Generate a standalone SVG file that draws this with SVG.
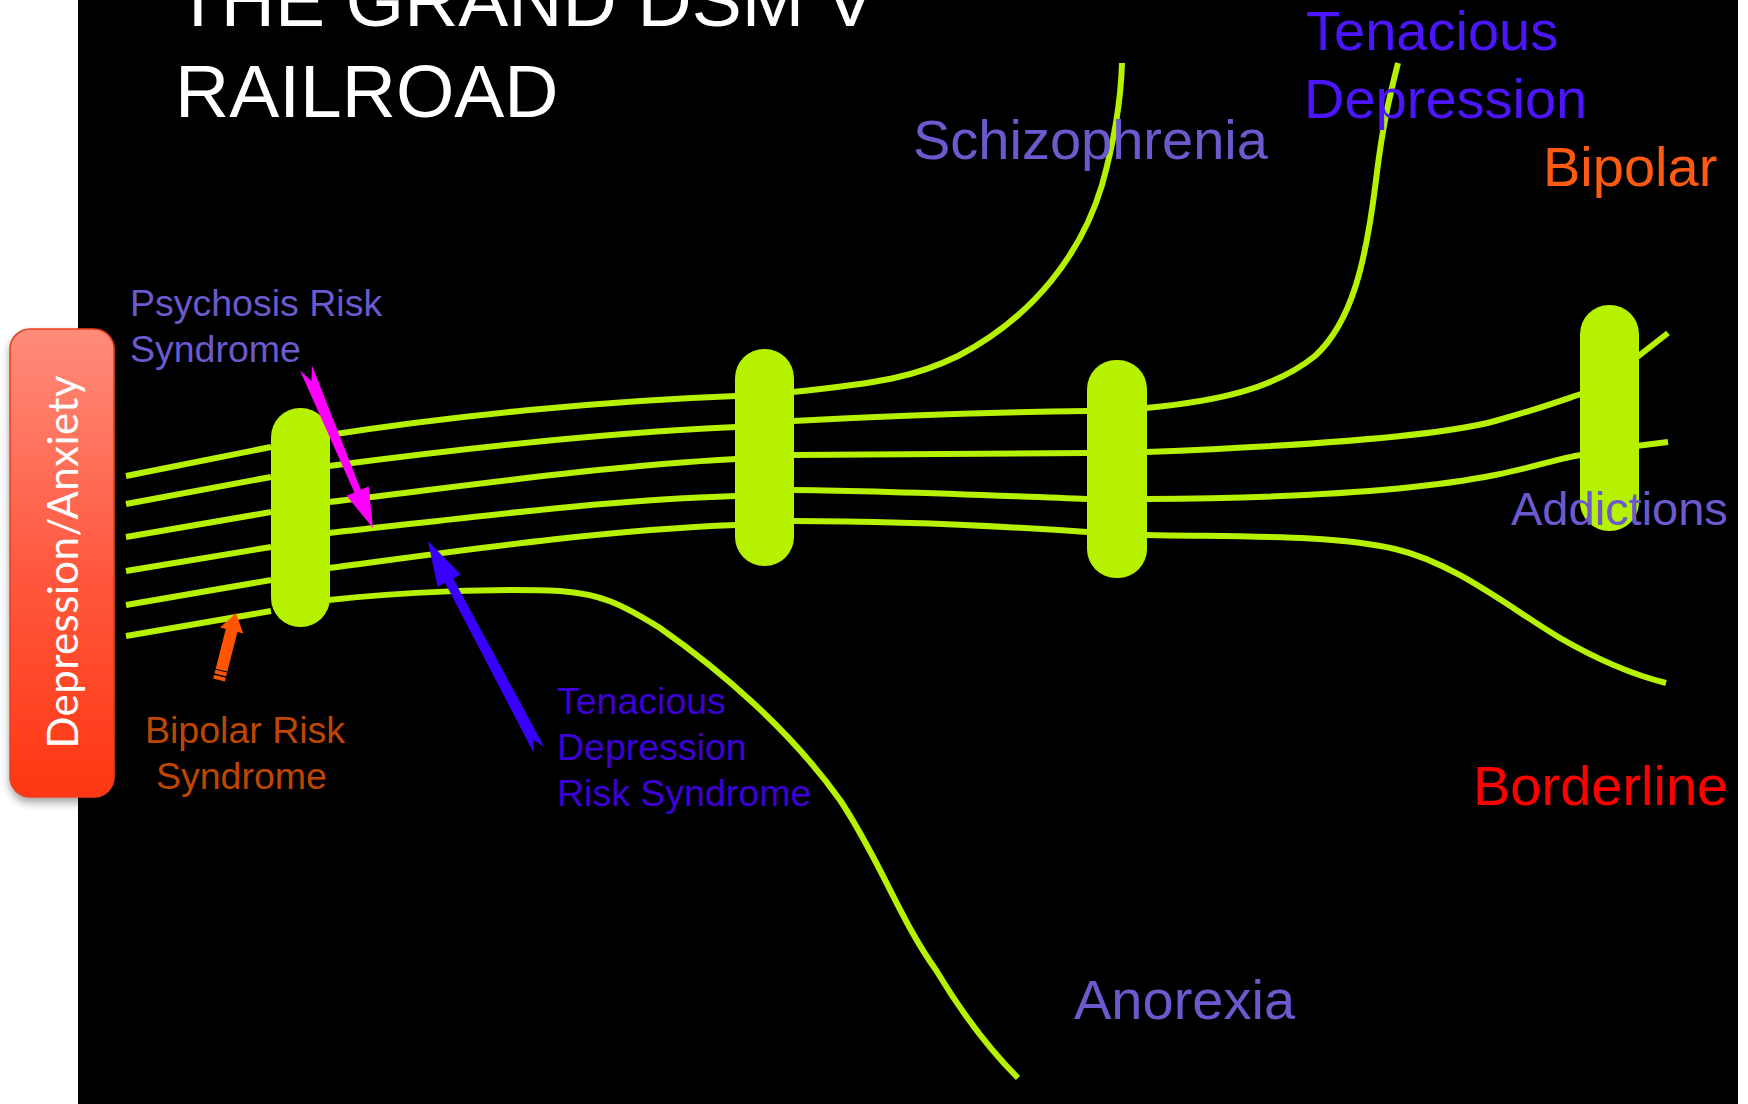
<svg xmlns="http://www.w3.org/2000/svg" width="1748" height="1104" viewBox="0 0 1748 1104">
  <style>
    .rail { fill: none; stroke: #B6F200; stroke-width: 6; stroke-linecap: butt; }
    .tie { fill: #B6F200; }
    .lbl { font-family: "Liberation Sans", Arial, sans-serif; }
    .small { font-size: 37.5px; }
    .big { font-size: 56px; }
    .slate { fill: #6A5ACD; }
    .violet { fill: #3D00D6; }
    .blue { fill: #4D14FF; }
  </style>
  <defs>
    <linearGradient id="boxGrad" x1="0" y1="0" x2="0" y2="1">
      <stop offset="0" stop-color="#FF8C7A"/>
      <stop offset="0.5" stop-color="#FF5A40"/>
      <stop offset="1" stop-color="#FF3612"/>
    </linearGradient>
    <filter id="shadow" x="-20%" y="-10%" width="140%" height="120%">
      <feDropShadow dx="0" dy="5" stdDeviation="4" flood-color="#000" flood-opacity="0.35"/>
    </filter>
  </defs>

  <!-- background -->
  <rect x="0" y="0" width="1748" height="1104" fill="#FFFFFF"/>
  <rect x="78" y="0" width="1660" height="1104" fill="#000000"/>

  <!-- title -->
  <g id="title" class="lbl" fill="#FFFFFF" font-size="75">
    <text x="175" y="26">THE GRAND DSM V</text>
    <text x="175" y="117">RAILROAD</text>
  </g>

  <!-- side box -->
  <g id="depression-anxiety">
    <rect x="10" y="329" width="104" height="468" rx="20" ry="20" fill="url(#boxGrad)" stroke="#E8401E" stroke-width="1.5" filter="url(#shadow)"/>
    <text transform="translate(78,562) rotate(-90)" text-anchor="middle" font-family="Lato, 'Open Sans', sans-serif" font-size="42" fill="#FFFFFF" textLength="373" lengthAdjust="spacing">Depression/Anxiety</text>
  </g>

  <!-- connectors: rails -->
  <g id="connectors">
    <!-- left of tie 1 -->
    <path class="rail" d="M126,476 L271,447"/>
    <path class="rail" d="M126,504 L271,477"/>
    <path class="rail" d="M126,537 L271,512"/>
    <path class="rail" d="M126,571 L271,547"/>
    <path class="rail" d="M126,605 L271,580"/>
    <path class="rail" d="M126,636 L271,611"/>
    <!-- tie 1 to tie 2 -->
    <path class="rail" d="M329,435 C450,416 600,401 736,396"/>
    <path class="rail" d="M329,466 C450,450 600,433 736,427"/>
    <path class="rail" d="M329,502 C450,488 600,466 736,459"/>
    <path class="rail" d="M329,533 C450,520 600,500 736,496"/>
    <path class="rail" d="M329,568 C450,552 600,530 736,525"/>
    <!-- anorexia branch -->
    <path id="to-anorexia" class="rail" d="M329,600 C400,592 500,588 560,591 C600,594 620,603 660,628 C720,670 790,730 840,800 C880,860 900,920 936,970 C960,1010 990,1050 1018,1078"/>
    <!-- schizophrenia branch -->
    <path id="to-schizophrenia" class="rail" d="M793,392 C880,383 915,377 958,356 C1035,316 1082,252 1102,185 C1116,135 1121,95 1122,63"/>
    <!-- tie 2 to tie 3 -->
    <path class="rail" d="M793,421 C900,415 1000,412 1087,411"/>
    <path class="rail" d="M793,455 C900,454 1000,453 1087,453"/>
    <path class="rail" d="M793,490 C900,491 1000,496 1087,499"/>
    <path class="rail" d="M793,521 C900,521 1000,526 1087,532"/>
    <!-- tenacious depression branch -->
    <path id="to-tenacious" class="rail" d="M1146,408 C1220,401 1275,388 1315,356 C1352,322 1366,262 1376,180 C1383,122 1390,95 1398,63"/>
    <!-- tie 3 to tie 4 -->
    <path class="rail" d="M1146,452 C1300,446 1440,436 1495,421 C1535,410 1560,401 1581,394"/>
    <path class="rail" d="M1146,499 C1300,498 1420,490 1495,475 C1535,467 1560,458 1581,455"/>
    <!-- borderline branch -->
    <path id="to-borderline" class="rail" d="M1146,535 C1250,537 1335,535 1395,549 C1455,563 1510,608 1560,638 C1605,664 1638,676 1666,683"/>
    <!-- beyond tie 4 -->
    <path class="rail" d="M1636,358 L1668,333"/>
    <path class="rail" d="M1636,446 L1668,442"/>
  </g>

  <!-- ties -->
  <g id="tie-1"><rect class="tie" x="271" y="408" width="59" height="219" rx="29"/></g>
  <g id="tie-2"><rect class="tie" x="735" y="349" width="59" height="217" rx="29"/></g>
  <g id="tie-3"><rect class="tie" x="1087" y="360" width="60" height="218" rx="29"/></g>
  <g id="tie-4"><rect class="tie" x="1580" y="305" width="59" height="226" rx="29"/></g>

  <!-- pointer arrows -->
  <g id="arrows">
    <polygon id="arrow-psychosis" fill="#FF00FF" points="373,528 368.7,486.5 360.8,489.8 312,365.5 311.4,380.9 300,370.5 354.4,492.5 346.5,495.7"/>
    <polygon id="arrow-tenacious" fill="#3A00FF" points="428,541 437.6,586.8 445.1,582.8 533.7,752.8 533.4,739.4 544.3,747.2 453.1,578.6 460.6,574.6"/>
    <g id="arrow-bipolar">
      <polygon fill="#FF5500" points="236,613 243.2,633.4 237.4,631.9 224.8,681.5 213.2,678.5 225.8,628.9 220,627.4"/>
      <line x1="213.5" y1="674" x2="226" y2="677" stroke="#000" stroke-width="1.5"/>
      <line x1="214.5" y1="669" x2="227" y2="672" stroke="#000" stroke-width="1.2"/>
    </g>
  </g>

  <!-- labels -->
  <g id="label-psychosis-risk" class="lbl small slate">
    <text x="130" y="316">Psychosis Risk</text>
    <text x="130" y="362">Syndrome</text>
  </g>
  <g id="label-bipolar-risk" class="lbl small" fill="#BE4600">
    <text x="145" y="743">Bipolar Risk</text>
    <text x="156" y="789">Syndrome</text>
  </g>
  <g id="label-tenacious-risk" class="lbl small violet">
    <text x="557" y="714">Tenacious</text>
    <text x="557" y="760">Depression</text>
    <text x="557" y="806">Risk Syndrome</text>
  </g>
  <g id="label-schizophrenia" class="lbl big slate">
    <text x="913" y="159">Schizophrenia</text>
  </g>
  <g id="label-tenacious-depression" class="lbl big blue">
    <text x="1306" y="50">Tenacious</text>
    <text x="1304" y="118">Depression</text>
  </g>
  <g id="label-bipolar" class="lbl big" fill="#FF5A12">
    <text x="1543" y="186">Bipolar</text>
  </g>
  <g id="label-addictions" class="lbl slate" font-size="47">
    <text x="1511" y="525">Addictions</text>
  </g>
  <g id="label-borderline" class="lbl big" fill="#FF0000">
    <text x="1473" y="805">Borderline</text>
  </g>
  <g id="label-anorexia" class="lbl big slate">
    <text x="1074" y="1019">Anorexia</text>
  </g>
</svg>
